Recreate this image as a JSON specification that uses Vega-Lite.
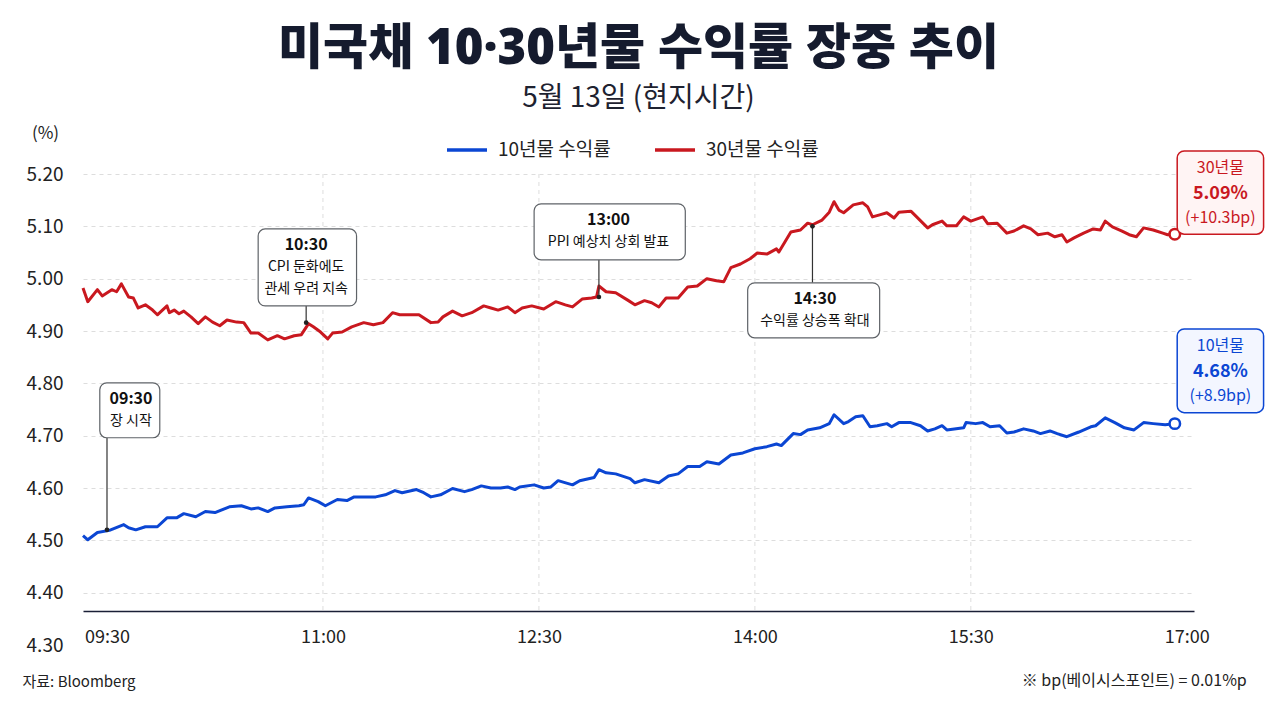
{
  "$schema": "https://vega.github.io/schema/vega-lite/v6.json",
  "width": 1111,
  "height": 471,
  "autosize": "none",
  "padding": {"left": 83, "top": 174, "right": 86, "bottom": 57},
  "background": "white",
  "config": {
    "font": "Noto Sans CJK KR",
    "view": {"stroke": null}
  },
  "title": {
    "text": "미국채 10·30년물 수익률 장중 추이",
    "subtitle": "5월 13일 (현지시간)",
    "anchor": "middle",
    "frame": "group",
    "font": "'Noto Sans', 'Noto Sans CJK KR'",
    "subtitleFont": "Noto Sans CJK KR",
    "fontSize": 49,
    "fontWeight": 900,
    "color": "#151b2e",
    "subtitleFontSize": 28,
    "subtitleColor": "#1e2230",
    "subtitlePadding": 11,
    "offset": 11
  },
  "layer": [
    {
      "data": {
        "values": [{"t": "11:00"}, {"t": "12:30"}, {"t": "14:00"}, {"t": "15:30"}],
        "format": {"parse": {"t": "date:'%H:%M'"}}
      },
      "mark": {"type": "rule", "color": "#dddddd", "strokeDash": [4, 4], "strokeWidth": 1},
      "encoding": {
        "x": {"field": "t", "type": "temporal"},
        "y": {"datum": 5.2},
        "y2": {"datum": 4.366}
      }
    },
    {
      "mark": {"type": "rule", "color": "#1a1f36", "strokeWidth": 1.5},
      "encoding": {
        "x": {"datum": {"year": 1900, "month": 1, "date": 1, "hours": 9, "minutes": 20}, "type": "temporal"},
        "y": {"datum": 5.2},
        "y2": {"datum": 4.366}
      }
    },
    {
      "data": {
        "values": [
          {"t": "09:20", "s": "10년물 수익률", "v": 4.509},
          {"t": "09:22", "s": "10년물 수익률", "v": 4.501},
          {"t": "09:26", "s": "10년물 수익률", "v": 4.515},
          {"t": "09:31", "s": "10년물 수익률", "v": 4.519},
          {"t": "09:37", "s": "10년물 수익률", "v": 4.530},
          {"t": "09:39", "s": "10년물 수익률", "v": 4.524},
          {"t": "09:42", "s": "10년물 수익률", "v": 4.520},
          {"t": "09:46", "s": "10년물 수익률", "v": 4.526},
          {"t": "09:51", "s": "10년물 수익률", "v": 4.526},
          {"t": "09:55", "s": "10년물 수익률", "v": 4.543},
          {"t": "09:59", "s": "10년물 수익률", "v": 4.543},
          {"t": "10:02", "s": "10년물 수익률", "v": 4.551},
          {"t": "10:07", "s": "10년물 수익률", "v": 4.545},
          {"t": "10:11", "s": "10년물 수익률", "v": 4.555},
          {"t": "10:15", "s": "10년물 수익률", "v": 4.553},
          {"t": "10:21", "s": "10년물 수익률", "v": 4.564},
          {"t": "10:26", "s": "10년물 수익률", "v": 4.566},
          {"t": "10:30", "s": "10년물 수익률", "v": 4.560},
          {"t": "10:33", "s": "10년물 수익률", "v": 4.562},
          {"t": "10:37", "s": "10년물 수익률", "v": 4.555},
          {"t": "10:40", "s": "10년물 수익률", "v": 4.562},
          {"t": "10:45", "s": "10년물 수익률", "v": 4.564},
          {"t": "10:50", "s": "10년물 수익률", "v": 4.566},
          {"t": "10:52", "s": "10년물 수익률", "v": 4.568},
          {"t": "10:54", "s": "10년물 수익률", "v": 4.581},
          {"t": "10:58", "s": "10년물 수익률", "v": 4.574},
          {"t": "11:01", "s": "10년물 수익률", "v": 4.566},
          {"t": "11:06", "s": "10년물 수익률", "v": 4.578},
          {"t": "11:10", "s": "10년물 수익률", "v": 4.576},
          {"t": "11:13", "s": "10년물 수익률", "v": 4.583},
          {"t": "11:18", "s": "10년물 수익률", "v": 4.583},
          {"t": "11:22", "s": "10년물 수익률", "v": 4.583},
          {"t": "11:26", "s": "10년물 수익률", "v": 4.587},
          {"t": "11:30", "s": "10년물 수익률", "v": 4.595},
          {"t": "11:33", "s": "10년물 수익률", "v": 4.591},
          {"t": "11:39", "s": "10년물 수익률", "v": 4.597},
          {"t": "11:42", "s": "10년물 수익률", "v": 4.591},
          {"t": "11:45", "s": "10년물 수익률", "v": 4.583},
          {"t": "11:49", "s": "10년물 수익률", "v": 4.587},
          {"t": "11:54", "s": "10년물 수익률", "v": 4.599},
          {"t": "11:59", "s": "10년물 수익률", "v": 4.593},
          {"t": "12:02", "s": "10년물 수익률", "v": 4.597},
          {"t": "12:06", "s": "10년물 수익률", "v": 4.604},
          {"t": "12:10", "s": "10년물 수익률", "v": 4.600},
          {"t": "12:14", "s": "10년물 수익률", "v": 4.600},
          {"t": "12:17", "s": "10년물 수익률", "v": 4.602},
          {"t": "12:20", "s": "10년물 수익률", "v": 4.597},
          {"t": "12:22", "s": "10년물 수익률", "v": 4.602},
          {"t": "12:28", "s": "10년물 수익률", "v": 4.606},
          {"t": "12:32", "s": "10년물 수익률", "v": 4.600},
          {"t": "12:35", "s": "10년물 수익률", "v": 4.602},
          {"t": "12:38", "s": "10년물 수익률", "v": 4.614},
          {"t": "12:44", "s": "10년물 수익률", "v": 4.606},
          {"t": "12:47", "s": "10년물 수익률", "v": 4.614},
          {"t": "12:53", "s": "10년물 수익률", "v": 4.620},
          {"t": "12:55", "s": "10년물 수익률", "v": 4.635},
          {"t": "12:58", "s": "10년물 수익률", "v": 4.629},
          {"t": "13:02", "s": "10년물 수익률", "v": 4.627},
          {"t": "13:08", "s": "10년물 수익률", "v": 4.618},
          {"t": "13:10", "s": "10년물 수익률", "v": 4.610},
          {"t": "13:14", "s": "10년물 수익률", "v": 4.616},
          {"t": "13:20", "s": "10년물 수익률", "v": 4.610},
          {"t": "13:24", "s": "10년물 수익률", "v": 4.623},
          {"t": "13:28", "s": "10년물 수익률", "v": 4.627},
          {"t": "13:32", "s": "10년물 수익률", "v": 4.641},
          {"t": "13:37", "s": "10년물 수익률", "v": 4.641},
          {"t": "13:40", "s": "10년물 수익률", "v": 4.650},
          {"t": "13:45", "s": "10년물 수익률", "v": 4.646},
          {"t": "13:50", "s": "10년물 수익률", "v": 4.663},
          {"t": "13:55", "s": "10년물 수익률", "v": 4.667},
          {"t": "14:00", "s": "10년물 수익률", "v": 4.675},
          {"t": "14:05", "s": "10년물 수익률", "v": 4.679},
          {"t": "14:09", "s": "10년물 수익률", "v": 4.684},
          {"t": "14:11", "s": "10년물 수익률", "v": 4.681},
          {"t": "14:16", "s": "10년물 수익률", "v": 4.704},
          {"t": "14:19", "s": "10년물 수익률", "v": 4.702},
          {"t": "14:22", "s": "10년물 수익률", "v": 4.711},
          {"t": "14:27", "s": "10년물 수익률", "v": 4.715},
          {"t": "14:31", "s": "10년물 수익률", "v": 4.723},
          {"t": "14:33", "s": "10년물 수익률", "v": 4.740},
          {"t": "14:37", "s": "10년물 수익률", "v": 4.723},
          {"t": "14:39", "s": "10년물 수익률", "v": 4.727},
          {"t": "14:42", "s": "10년물 수익률", "v": 4.736},
          {"t": "14:45", "s": "10년물 수익률", "v": 4.738},
          {"t": "14:48", "s": "10년물 수익률", "v": 4.717},
          {"t": "14:51", "s": "10년물 수익률", "v": 4.719},
          {"t": "14:55", "s": "10년물 수익률", "v": 4.723},
          {"t": "14:57", "s": "10년물 수익률", "v": 4.717},
          {"t": "15:00", "s": "10년물 수익률", "v": 4.725},
          {"t": "15:05", "s": "10년물 수익률", "v": 4.725},
          {"t": "15:09", "s": "10년물 수익률", "v": 4.719},
          {"t": "15:12", "s": "10년물 수익률", "v": 4.709},
          {"t": "15:15", "s": "10년물 수익률", "v": 4.713},
          {"t": "15:18", "s": "10년물 수익률", "v": 4.719},
          {"t": "15:20", "s": "10년물 수익률", "v": 4.711},
          {"t": "15:27", "s": "10년물 수익률", "v": 4.715},
          {"t": "15:28", "s": "10년물 수익률", "v": 4.725},
          {"t": "15:32", "s": "10년물 수익률", "v": 4.723},
          {"t": "15:35", "s": "10년물 수익률", "v": 4.725},
          {"t": "15:38", "s": "10년물 수익률", "v": 4.717},
          {"t": "15:42", "s": "10년물 수익률", "v": 4.719},
          {"t": "15:45", "s": "10년물 수익률", "v": 4.705},
          {"t": "15:48", "s": "10년물 수익률", "v": 4.707},
          {"t": "15:52", "s": "10년물 수익률", "v": 4.713},
          {"t": "15:56", "s": "10년물 수익률", "v": 4.709},
          {"t": "15:59", "s": "10년물 수익률", "v": 4.704},
          {"t": "16:03", "s": "10년물 수익률", "v": 4.709},
          {"t": "16:06", "s": "10년물 수익률", "v": 4.704},
          {"t": "16:10", "s": "10년물 수익률", "v": 4.698},
          {"t": "16:15", "s": "10년물 수익률", "v": 4.707},
          {"t": "16:20", "s": "10년물 수익률", "v": 4.717},
          {"t": "16:22", "s": "10년물 수익률", "v": 4.719},
          {"t": "16:26", "s": "10년물 수익률", "v": 4.734},
          {"t": "16:30", "s": "10년물 수익률", "v": 4.725},
          {"t": "16:34", "s": "10년물 수익률", "v": 4.715},
          {"t": "16:38", "s": "10년물 수익률", "v": 4.711},
          {"t": "16:42", "s": "10년물 수익률", "v": 4.725},
          {"t": "16:46", "s": "10년물 수익률", "v": 4.723},
          {"t": "16:51", "s": "10년물 수익률", "v": 4.721},
          {"t": "16:55", "s": "10년물 수익률", "v": 4.723},
          {"t": "09:20", "s": "30년물 수익률", "v": 4.982},
          {"t": "09:22", "s": "30년물 수익률", "v": 4.956},
          {"t": "09:26", "s": "30년물 수익률", "v": 4.979},
          {"t": "09:28", "s": "30년물 수익률", "v": 4.967},
          {"t": "09:32", "s": "30년물 수익률", "v": 4.979},
          {"t": "09:34", "s": "30년물 수익률", "v": 4.975},
          {"t": "09:36", "s": "30년물 수익률", "v": 4.990},
          {"t": "09:39", "s": "30년물 수익률", "v": 4.965},
          {"t": "09:41", "s": "30년물 수익률", "v": 4.963},
          {"t": "09:43", "s": "30년물 수익률", "v": 4.944},
          {"t": "09:46", "s": "30년물 수익률", "v": 4.950},
          {"t": "09:49", "s": "30년물 수익률", "v": 4.940},
          {"t": "09:51", "s": "30년물 수익률", "v": 4.931},
          {"t": "09:55", "s": "30년물 수익률", "v": 4.948},
          {"t": "09:56", "s": "30년물 수익률", "v": 4.935},
          {"t": "09:58", "s": "30년물 수익률", "v": 4.940},
          {"t": "10:00", "s": "30년물 수익률", "v": 4.933},
          {"t": "10:02", "s": "30년물 수익률", "v": 4.938},
          {"t": "10:05", "s": "30년물 수익률", "v": 4.927},
          {"t": "10:08", "s": "30년물 수익률", "v": 4.914},
          {"t": "10:11", "s": "30년물 수익률", "v": 4.927},
          {"t": "10:14", "s": "30년물 수익률", "v": 4.917},
          {"t": "10:17", "s": "30년물 수익률", "v": 4.910},
          {"t": "10:20", "s": "30년물 수익률", "v": 4.921},
          {"t": "10:24", "s": "30년물 수익률", "v": 4.917},
          {"t": "10:27", "s": "30년물 수익률", "v": 4.916},
          {"t": "10:30", "s": "30년물 수익률", "v": 4.896},
          {"t": "10:33", "s": "30년물 수익률", "v": 4.896},
          {"t": "10:37", "s": "30년물 수익률", "v": 4.883},
          {"t": "10:41", "s": "30년물 수익률", "v": 4.891},
          {"t": "10:44", "s": "30년물 수익률", "v": 4.885},
          {"t": "10:48", "s": "30년물 수익률", "v": 4.891},
          {"t": "10:51", "s": "30년물 수익률", "v": 4.893},
          {"t": "10:54", "s": "30년물 수익률", "v": 4.914},
          {"t": "10:56", "s": "30년물 수익률", "v": 4.908},
          {"t": "10:59", "s": "30년물 수익률", "v": 4.898},
          {"t": "11:02", "s": "30년물 수익률", "v": 4.885},
          {"t": "11:04", "s": "30년물 수익률", "v": 4.896},
          {"t": "11:08", "s": "30년물 수익률", "v": 4.898},
          {"t": "11:12", "s": "30년물 수익률", "v": 4.908},
          {"t": "11:17", "s": "30년물 수익률", "v": 4.916},
          {"t": "11:21", "s": "30년물 수익률", "v": 4.912},
          {"t": "11:25", "s": "30년물 수익률", "v": 4.916},
          {"t": "11:29", "s": "30년물 수익률", "v": 4.935},
          {"t": "11:32", "s": "30년물 수익률", "v": 4.931},
          {"t": "11:36", "s": "30년물 수익률", "v": 4.931},
          {"t": "11:40", "s": "30년물 수익률", "v": 4.931},
          {"t": "11:45", "s": "30년물 수익률", "v": 4.916},
          {"t": "11:48", "s": "30년물 수익률", "v": 4.917},
          {"t": "11:50", "s": "30년물 수익률", "v": 4.927},
          {"t": "11:54", "s": "30년물 수익률", "v": 4.938},
          {"t": "11:58", "s": "30년물 수익률", "v": 4.929},
          {"t": "12:02", "s": "30년물 수익률", "v": 4.935},
          {"t": "12:07", "s": "30년물 수익률", "v": 4.948},
          {"t": "12:10", "s": "30년물 수익률", "v": 4.944},
          {"t": "12:13", "s": "30년물 수익률", "v": 4.940},
          {"t": "12:17", "s": "30년물 수익률", "v": 4.946},
          {"t": "12:20", "s": "30년물 수익률", "v": 4.935},
          {"t": "12:23", "s": "30년물 수익률", "v": 4.944},
          {"t": "12:27", "s": "30년물 수익률", "v": 4.948},
          {"t": "12:32", "s": "30년물 수익률", "v": 4.942},
          {"t": "12:37", "s": "30년물 수익률", "v": 4.956},
          {"t": "12:41", "s": "30년물 수익률", "v": 4.950},
          {"t": "12:44", "s": "30년물 수익률", "v": 4.946},
          {"t": "12:48", "s": "30년물 수익률", "v": 4.961},
          {"t": "12:52", "s": "30년물 수익률", "v": 4.963},
          {"t": "12:54", "s": "30년물 수익률", "v": 4.965},
          {"t": "12:55", "s": "30년물 수익률", "v": 4.986},
          {"t": "12:58", "s": "30년물 수익률", "v": 4.975},
          {"t": "13:02", "s": "30년물 수익률", "v": 4.973},
          {"t": "13:07", "s": "30년물 수익률", "v": 4.959},
          {"t": "13:10", "s": "30년물 수익률", "v": 4.950},
          {"t": "13:14", "s": "30년물 수익률", "v": 4.958},
          {"t": "13:17", "s": "30년물 수익률", "v": 4.954},
          {"t": "13:20", "s": "30년물 수익률", "v": 4.946},
          {"t": "13:23", "s": "30년물 수익률", "v": 4.963},
          {"t": "13:28", "s": "30년물 수익률", "v": 4.963},
          {"t": "13:32", "s": "30년물 수익률", "v": 4.984},
          {"t": "13:36", "s": "30년물 수익률", "v": 4.986},
          {"t": "13:40", "s": "30년물 수익률", "v": 5.000},
          {"t": "13:44", "s": "30년물 수익률", "v": 4.996},
          {"t": "13:47", "s": "30년물 수익률", "v": 4.994},
          {"t": "13:50", "s": "30년물 수익률", "v": 5.021},
          {"t": "13:54", "s": "30년물 수익률", "v": 5.028},
          {"t": "13:58", "s": "30년물 수익률", "v": 5.038},
          {"t": "14:01", "s": "30년물 수익률", "v": 5.049},
          {"t": "14:05", "s": "30년물 수익률", "v": 5.047},
          {"t": "14:09", "s": "30년물 수익률", "v": 5.057},
          {"t": "14:10", "s": "30년물 수익률", "v": 5.051},
          {"t": "14:15", "s": "30년물 수익률", "v": 5.089},
          {"t": "14:19", "s": "30년물 수익률", "v": 5.093},
          {"t": "14:22", "s": "30년물 수익률", "v": 5.106},
          {"t": "14:24", "s": "30년물 수익률", "v": 5.103},
          {"t": "14:28", "s": "30년물 수익률", "v": 5.112},
          {"t": "14:31", "s": "30년물 수익률", "v": 5.127},
          {"t": "14:33", "s": "30년물 수익률", "v": 5.147},
          {"t": "14:35", "s": "30년물 수익률", "v": 5.131},
          {"t": "14:37", "s": "30년물 수익률", "v": 5.126},
          {"t": "14:41", "s": "30년물 수익률", "v": 5.141},
          {"t": "14:45", "s": "30년물 수익률", "v": 5.145},
          {"t": "14:47", "s": "30년물 수익률", "v": 5.137},
          {"t": "14:49", "s": "30년물 수익률", "v": 5.118},
          {"t": "14:52", "s": "30년물 수익률", "v": 5.122},
          {"t": "14:55", "s": "30년물 수익률", "v": 5.126},
          {"t": "14:58", "s": "30년물 수익률", "v": 5.116},
          {"t": "15:00", "s": "30년물 수익률", "v": 5.127},
          {"t": "15:05", "s": "30년물 수익률", "v": 5.129},
          {"t": "15:07", "s": "30년물 수익률", "v": 5.120},
          {"t": "15:12", "s": "30년물 수익률", "v": 5.097},
          {"t": "15:14", "s": "30년물 수익률", "v": 5.103},
          {"t": "15:18", "s": "30년물 수익률", "v": 5.110},
          {"t": "15:20", "s": "30년물 수익률", "v": 5.101},
          {"t": "15:24", "s": "30년물 수익률", "v": 5.101},
          {"t": "15:27", "s": "30년물 수익률", "v": 5.118},
          {"t": "15:30", "s": "30년물 수익률", "v": 5.110},
          {"t": "15:35", "s": "30년물 수익률", "v": 5.118},
          {"t": "15:37", "s": "30년물 수익률", "v": 5.105},
          {"t": "15:41", "s": "30년물 수익률", "v": 5.106},
          {"t": "15:45", "s": "30년물 수익률", "v": 5.087},
          {"t": "15:48", "s": "30년물 수익률", "v": 5.091},
          {"t": "15:52", "s": "30년물 수익률", "v": 5.101},
          {"t": "15:55", "s": "30년물 수익률", "v": 5.095},
          {"t": "15:58", "s": "30년물 수익률", "v": 5.084},
          {"t": "16:02", "s": "30년물 수익률", "v": 5.087},
          {"t": "16:05", "s": "30년물 수익률", "v": 5.080},
          {"t": "16:08", "s": "30년물 수익률", "v": 5.084},
          {"t": "16:10", "s": "30년물 수익률", "v": 5.070},
          {"t": "16:13", "s": "30년물 수익률", "v": 5.078},
          {"t": "16:17", "s": "30년물 수익률", "v": 5.087},
          {"t": "16:21", "s": "30년물 수익률", "v": 5.095},
          {"t": "16:24", "s": "30년물 수익률", "v": 5.093},
          {"t": "16:26", "s": "30년물 수익률", "v": 5.110},
          {"t": "16:29", "s": "30년물 수익률", "v": 5.099},
          {"t": "16:33", "s": "30년물 수익률", "v": 5.091},
          {"t": "16:36", "s": "30년물 수익률", "v": 5.084},
          {"t": "16:39", "s": "30년물 수익률", "v": 5.080},
          {"t": "16:42", "s": "30년물 수익률", "v": 5.097},
          {"t": "16:46", "s": "30년물 수익률", "v": 5.093},
          {"t": "16:50", "s": "30년물 수익률", "v": 5.087},
          {"t": "16:52", "s": "30년물 수익률", "v": 5.084},
          {"t": "16:55", "s": "30년물 수익률", "v": 5.085}
        ],
        "format": {"parse": {"t": "date:'%H:%M'"}}
      },
      "mark": {"type": "line", "strokeWidth": 3, "strokeJoin": "round"},
      "encoding": {
        "x": {
          "field": "t",
          "type": "temporal",
          "scale": {
            "domain": [
              {"year": 1900, "month": 1, "date": 1, "hours": 9, "minutes": 20},
              {"year": 1900, "month": 1, "date": 1, "hours": 17, "minutes": 3}
            ]
          },
          "axis": {
            "values": [
              {"year": 1900, "month": 1, "date": 1, "hours": 9, "minutes": 30},
              {"year": 1900, "month": 1, "date": 1, "hours": 11, "minutes": 0},
              {"year": 1900, "month": 1, "date": 1, "hours": 12, "minutes": 30},
              {"year": 1900, "month": 1, "date": 1, "hours": 14, "minutes": 0},
              {"year": 1900, "month": 1, "date": 1, "hours": 15, "minutes": 30},
              {"year": 1900, "month": 1, "date": 1, "hours": 17, "minutes": 0}
            ],
            "format": "%H:%M",
            "grid": false,
            "ticks": false,
            "offset": -34,
            "domainColor": "#1a1f36",
            "domainWidth": 1.5,
            "labelFontSize": 18,
            "labelColor": "#222222",
            "labelPadding": 17,
            "labelFlush": false,
            "title": "자료: Bloomberg",
            "titleFontSize": 15,
            "titleFontWeight": "normal",
            "titleColor": "#222222",
            "titleAnchor": "start",
            "titleAlign": "left",
            "titleBaseline": "middle",
            "titleX": -61,
            "titleY": 70
          }
        },
        "y": {
          "field": "v",
          "type": "quantitative",
          "scale": {"domain": [4.3, 5.2], "nice": false, "zero": false},
          "axis": {
            "values": [4.3, 4.4, 4.5, 4.6, 4.7, 4.8, 4.9, 5.0, 5.1, 5.2],
            "format": ".2f",
            "domain": false,
            "ticks": false,
            "labelFontSize": 19,
            "labelColor": "#222222",
            "labelPadding": 20,
            "grid": true,
            "gridColor": "#dddddd",
            "gridDash": [4, 4],
            "gridOpacity": {"condition": {"test": "datum.value < 4.35", "value": 0}, "value": 1},
            "title": "(%)",
            "titleAngle": 0,
            "titleFontSize": 17,
            "titleFontWeight": "normal",
            "titleColor": "#222222",
            "titleAlign": "center",
            "titleBaseline": "middle",
            "titleX": -38,
            "titleY": -41
          }
        },
        "color": {
          "field": "s",
          "type": "nominal",
          "scale": {"domain": ["10년물 수익률", "30년물 수익률"], "range": ["#0b46d3", "#c9181f"]},
          "legend": {
            "orient": "none",
            "legendX": 362,
            "legendY": -46,
            "direction": "horizontal",
            "title": null,
            "symbolType": "stroke",
            "symbolSize": 1600,
            "symbolStrokeWidth": 3.5,
            "labelFontSize": 19,
            "labelColor": "#222222",
            "labelOffset": 9,
            "columnPadding": 37
          }
        }
      }
    },
    {
      "data": {
        "values": [
          {"time": "09:30", "body": ["장 시작"], "t": "09:30", "v": 4.52, "edge": 4.696, "x1": "09:27", "x2": "09:52", "xc": "09:40", "top": 4.801, "bot": 4.696},
          {"time": "10:30", "body": ["CPI 둔화에도", "관세 우려 지속"], "t": "10:53", "v": 4.916, "edge": 4.948, "x1": "10:33", "x2": "11:14", "xc": "10:53", "top": 5.095, "bot": 4.948},
          {"time": "13:00", "body": ["PPI 예상치 상회 발표"], "t": "12:55", "v": 4.965, "edge": 5.036, "x1": "12:28", "x2": "13:31", "xc": "12:59", "top": 5.143, "bot": 5.036},
          {"time": "14:30", "body": ["수익률 상승폭 확대"], "t": "14:24", "v": 5.1, "edge": 4.992, "x1": "13:57", "x2": "14:52", "xc": "14:25", "top": 4.992, "bot": 4.887}
        ],
        "format": {"parse": {"t": "date:'%H:%M'", "x1": "date:'%H:%M'", "x2": "date:'%H:%M'", "xc": "date:'%H:%M'"}}
      },
      "layer": [
        {
          "mark": {"type": "rule", "color": "#333333", "strokeWidth": 1.2},
          "encoding": {
            "x": {"field": "t", "type": "temporal"},
            "y": {"field": "v", "type": "quantitative"},
            "y2": {"field": "edge"}
          }
        },
        {
          "mark": {"type": "circle", "color": "#222222", "size": 22, "opacity": 1},
          "encoding": {
            "x": {"field": "t", "type": "temporal"},
            "y": {"field": "v", "type": "quantitative"}
          }
        },
        {
          "mark": {"type": "rect", "fill": "white", "stroke": "#5f6368", "strokeWidth": 1.2, "cornerRadius": 7},
          "encoding": {
            "x": {"field": "x1", "type": "temporal"},
            "x2": {"field": "x2"},
            "y": {"field": "top", "type": "quantitative"},
            "y2": {"field": "bot"}
          }
        },
        {
          "mark": {"type": "text", "fontSize": 16, "fontWeight": "bold", "color": "#111111", "baseline": "middle", "dy": 16},
          "encoding": {
            "x": {"field": "xc", "type": "temporal"},
            "y": {"field": "top", "type": "quantitative"},
            "text": {"field": "time", "type": "nominal"}
          }
        },
        {
          "mark": {"type": "text", "fontSize": 14, "color": "#111111", "baseline": "top", "dy": 31, "lineHeight": 22},
          "encoding": {
            "x": {"field": "xc", "type": "temporal"},
            "y": {"field": "top", "type": "quantitative"},
            "text": {"field": "body", "type": "nominal"}
          }
        }
      ]
    },
    {
      "data": {
        "values": [
          {"s": "30년물 수익률", "name": "30년물", "val": "5.09%", "chg": "(+10.3bp)", "t": "16:55", "v": 5.085, "x1": "16:56", "x2": "17:32", "xc": "17:14", "top": 5.244, "bot": 5.085},
          {"s": "10년물 수익률", "name": "10년물", "val": "4.68%", "chg": "(+8.9bp)", "t": "16:55", "v": 4.723, "x1": "16:56", "x2": "17:32", "xc": "17:14", "top": 4.904, "bot": 4.744}
        ],
        "format": {"parse": {"t": "date:'%H:%M'", "x1": "date:'%H:%M'", "x2": "date:'%H:%M'", "xc": "date:'%H:%M'"}}
      },
      "layer": [
        {
          "mark": {"type": "point", "shape": "circle", "filled": false, "fill": "white", "strokeWidth": 2.5, "size": 110, "opacity": 1},
          "encoding": {
            "x": {"field": "t", "type": "temporal"},
            "y": {"field": "v", "type": "quantitative"},
            "stroke": {
              "field": "s",
              "type": "nominal",
              "scale": {"domain": ["10년물 수익률", "30년물 수익률"], "range": ["#0b46d3", "#c9181f"]},
              "legend": null
            }
          }
        },
        {
          "mark": {"type": "rect", "strokeWidth": 1.5, "cornerRadius": 7},
          "encoding": {
            "x": {"field": "x1", "type": "temporal"},
            "x2": {"field": "x2"},
            "y": {"field": "top", "type": "quantitative"},
            "y2": {"field": "bot"},
            "fill": {
              "field": "s",
              "type": "nominal",
              "scale": {"domain": ["10년물 수익률", "30년물 수익률"], "range": ["#f3f6ff", "#fff4f4"]},
              "legend": null
            },
            "stroke": {"field": "s", "type": "nominal", "legend": null}
          }
        },
        {
          "mark": {"type": "text", "fontSize": 16, "baseline": "middle", "dy": 17},
          "encoding": {
            "x": {"field": "xc", "type": "temporal"},
            "y": {"field": "top", "type": "quantitative"},
            "text": {"field": "name", "type": "nominal"},
            "color": {"field": "s", "type": "nominal"}
          }
        },
        {
          "mark": {"type": "text", "fontSize": 18, "fontWeight": "bold", "baseline": "middle", "dy": 43},
          "encoding": {
            "x": {"field": "xc", "type": "temporal"},
            "y": {"field": "top", "type": "quantitative"},
            "text": {"field": "val", "type": "nominal"},
            "color": {"field": "s", "type": "nominal"}
          }
        },
        {
          "mark": {"type": "text", "fontSize": 16, "baseline": "middle", "dy": 67},
          "encoding": {
            "x": {"field": "xc", "type": "temporal"},
            "y": {"field": "top", "type": "quantitative"},
            "text": {"field": "chg", "type": "nominal"},
            "color": {"field": "s", "type": "nominal"}
          }
        }
      ]
    },
    {
      "data": {
        "values": [{"note": "※ bp(베이시스포인트) = 0.01%p", "t": "17:25", "v": 4.232}],
        "format": {"parse": {"t": "date:'%H:%M'"}}
      },
      "mark": {"type": "text", "align": "right", "baseline": "middle", "fontSize": 16, "color": "#222222"},
      "encoding": {
        "x": {"field": "t", "type": "temporal"},
        "y": {"field": "v", "type": "quantitative"},
        "text": {"field": "note", "type": "nominal"}
      }
    }
  ]
}
